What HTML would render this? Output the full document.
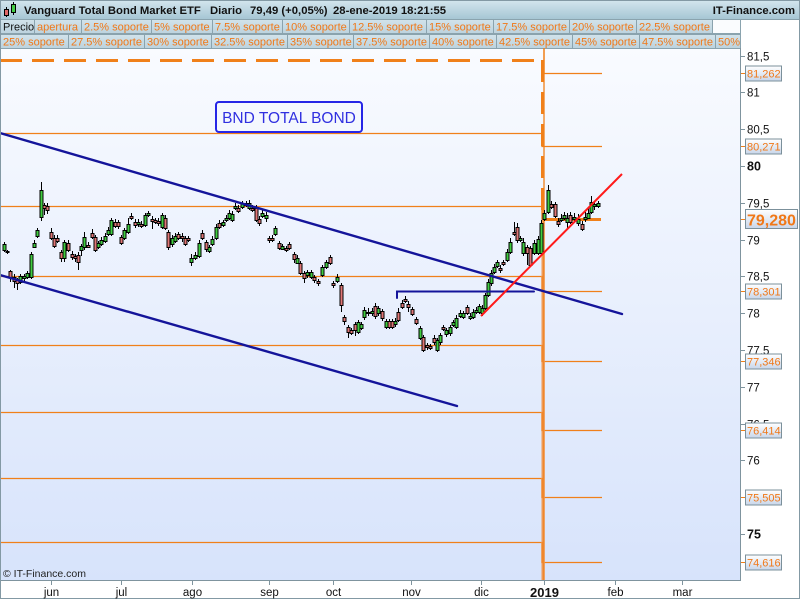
<!DOCTYPE html>
<html><head><meta charset="utf-8">
<style>
html,body{margin:0;padding:0;background:#fff;}
svg{display:block;font-family:"Liberation Sans",Arial,sans-serif;}
</style></head><body>
<svg id="s" width="800" height="600" viewBox="0 0 800 600" xmlns="http://www.w3.org/2000/svg">
<defs>
<linearGradient id="bg" x1="0" y1="0" x2="0" y2="1"><stop offset="0" stop-color="#f9fbff"/><stop offset="1" stop-color="#d7e3fb"/></linearGradient>
<linearGradient id="hd" x1="0" y1="0" x2="0" y2="1"><stop offset="0" stop-color="#d4e6ee"/><stop offset="1" stop-color="#a6c6d4"/></linearGradient>
<linearGradient id="cl" x1="0" y1="0" x2="0" y2="1"><stop offset="0" stop-color="#d2e3eb"/><stop offset="1" stop-color="#bcd3de"/></linearGradient>
<linearGradient id="bx" x1="0" y1="0" x2="0" y2="1"><stop offset="0" stop-color="#ffffff"/><stop offset="1" stop-color="#c8d6ea"/></linearGradient>
</defs>
<rect width="800" height="600" fill="#fff"/>
<rect x="0" y="48" width="741" height="532" fill="url(#bg)"/>

<rect x="0" y="0" width="800" height="19" fill="url(#hd)"/>
<line x1="0" y1="19.5" x2="800" y2="19.5" stroke="#87a0ab"/>
<g id="cells"></g>
<line x1="6.5" y1="7" x2="6.5" y2="17" stroke="#000"/>
<rect x="4.5" y="9.5" width="4" height="6" fill="#e06666" stroke="#000"/>
<line x1="13.5" y1="2" x2="13.5" y2="15" stroke="#000"/>
<rect x="11.5" y="4.5" width="4" height="8" fill="#44cc44" stroke="#000"/>
<text x="24" y="14" font-size="11.3" font-weight="bold" fill="#111">Vanguard Total Bond Market ETF</text>
<text x="210" y="14" font-size="11.3" font-weight="bold" fill="#111">Diario</text>
<text x="250" y="14" font-size="11.3" font-weight="bold" fill="#111">79,49 (+0,05%)</text>
<text x="333" y="14" font-size="11.3" font-weight="bold" fill="#111">28-ene-2019 18:21:55</text>
<text x="795" y="14" font-size="11.3" font-weight="bold" fill="#111" text-anchor="end">IT-Finance.com</text>

<g stroke="#f0801a" stroke-width="1.3" fill="none">
<polyline points="0,133.5 542,133.5 542,146.5 602,146.5"/>
<polyline points="0,206.5 542,206.5 542,219.5"/>
<polyline points="0,276.5 542,276.5 542,291.5 602,291.5"/>
<polyline points="0,345.5 542,345.5 542,361.5 602,361.5"/>
<polyline points="0,412.5 542,412.5 542,430.5 602,430.5"/>
<polyline points="0,478.5 542,478.5 542,497.5 602,497.5"/>
<polyline points="0,542.5 542,542.5 542,562.5 602,562.5"/>
<polyline points="544,48 544,73.5 602,73.5"/>
<line x1="544" y1="48" x2="544" y2="580"/>
</g>
<rect x="541" y="190" width="4" height="390" fill="#f0a060" opacity="0.55"/>
<line x1="543" y1="190" x2="543" y2="580" stroke="#f08020" stroke-width="1.2"/>
<g stroke="#f0801a" stroke-width="3" fill="none">
<line x1="0" y1="60.5" x2="541" y2="60.5" stroke-dasharray="22 10"/>
<line x1="542.5" y1="60" x2="542.5" y2="219" stroke-dasharray="22 10"/>
<line x1="545" y1="219.5" x2="601" y2="219.5"/>
</g>

<g id="candles"></g>

<g stroke="#14149a" stroke-width="2.4" fill="none" stroke-linecap="round">
<line x1="0" y1="133" x2="622" y2="314"/>
<line x1="0" y1="275" x2="457" y2="406"/>
<polyline points="397,298 397,291.5 534,291.5" stroke-width="2"/>
</g>
<line x1="481" y1="316" x2="622" y2="174" stroke="#ff1a1a" stroke-width="2"/>

<rect x="216" y="102" width="146" height="30" rx="3" fill="none" stroke="#2626e6" stroke-width="2"/>
<text x="289" y="123" font-size="15.5" fill="#3030e0" text-anchor="middle">BND TOTAL BOND</text>

<text x="3" y="577" font-size="10.5" fill="#222">© IT-Finance.com</text>

<line x1="740.5" y1="48" x2="740.5" y2="580" stroke="#7f949e"/>
<line x1="0" y1="580.5" x2="741" y2="580.5" stroke="#7f949e"/>
<rect x="0.5" y="0.5" width="799" height="598" fill="none" stroke="#8399a4"/>
<g id="yax"></g>
<g id="xax"></g>
</svg>
<script>
var NS="http://www.w3.org/2000/svg";
function el(p,t,a,txt){var e=document.createElementNS(NS,t);for(var k in a)e.setAttribute(k,a[k]);if(txt!=null)e.textContent=txt;p.appendChild(e);return e;}
var cells=document.getElementById('cells');
var r2=[[0,34,"Precio"],[34,81,"apertura"],[81,151,"2.5% soporte"],[151,212,"5% soporte"],[212,282,"7.5% soporte"],[282,349,"10% soporte"],[349,426,"12.5% soporte"],[426,493,"15% soporte"],[493,569,"17.5% soporte"],[569,636,"20% soporte"],[636,712,"22.5% soporte"]];
var r3=[[0,68,"25% soporte"],[68,144,"27.5% soporte"],[144,211,"30% soporte"],[211,287,"32.5% soporte"],[287,353,"35% soporte"],[353,429,"37.5% soporte"],[429,496,"40% soporte"],[496,572,"42.5% soporte"],[572,639,"45% soporte"],[639,715,"47.5% soporte"],[715,740,"50%"]];
function row(arr,y,h){arr.forEach(function(c,i){
 el(cells,'rect',{x:c[0]+0.5,y:y+0.5,width:c[1]-c[0],height:h,fill:'url(#cl)',stroke:'#8aa3ae'});
 el(cells,'text',{x:c[0]+3,y:y+11.5,'font-size':11,fill:(c[2]=="Precio"?'#111':'#f07818')},c[2]);
});}
row(r2,19,14);row(r3,34,14);
el(cells,'rect',{x:712.5,y:19.5,width:28,height:14,fill:'#fafcfe',stroke:'#8aa3ae'});
el(cells,'line',{x1:0,y1:48.5,x2:741,y2:48.5,stroke:'#8aa3ae'});

var D=[[4,244,250,242,252,'g'],[7,251,252,250,254,'r'],[10,271,277,270,282,'r'],[14,277,281,274,288,'r'],[17,280,283,278,290,'r'],[20,276,282,274,284,'g'],[24,276,278,274,282,'g'],[27,273,277,271,279,'g'],[31,254,277,252,279,'g'],[34,243,247,240,248,'g'],[37,230,236,228,238,'g'],[41,190,217,182,221,'g'],[44,205,208,203,215,'r'],[47,206,210,203,214,'r'],[51,232,238,228,240,'r'],[54,238,246,235,248,'r'],[57,238,241,235,243,'r'],[61,252,258,250,262,'r'],[64,242,258,240,262,'g'],[68,243,250,240,252,'r'],[72,254,257,251,260,'r'],[75,256,258,254,262,'r'],[78,255,262,252,270,'r'],[81,246,250,244,256,'g'],[84,237,247,232,250,'g'],[88,245,247,242,248,'r'],[92,233,237,229,239,'r'],[95,237,250,235,252,'r'],[98,243,247,241,249,'g'],[101,240,244,237,246,'g'],[105,236,241,233,243,'g'],[108,230,234,227,236,'g'],[111,220,234,218,236,'g'],[115,222,226,219,228,'r'],[118,222,226,220,229,'r'],[121,237,243,235,245,'r'],[124,230,238,228,240,'g'],[128,224,232,218,234,'g'],[131,216,218,213,220,'r'],[135,222,225,219,228,'r'],[138,222,224,219,227,'g'],[141,224,226,221,228,'r'],[145,215,225,213,227,'g'],[148,213,215,211,217,'g'],[152,219,221,216,229,'r'],[155,220,222,218,224,'r'],[158,221,223,218,226,'r'],[162,215,227,213,229,'g'],[165,218,228,215,230,'r'],[168,232,247,230,250,'r'],[172,238,244,235,247,'g'],[175,236,241,233,243,'g'],[178,234,238,232,240,'r'],[182,236,238,233,242,'r'],[185,238,244,236,246,'r'],[188,238,240,236,242,'r'],[191,258,262,254,266,'g'],[195,255,258,252,260,'g'],[199,243,256,240,258,'g'],[202,233,238,230,240,'r'],[206,242,249,240,252,'r'],[209,247,251,245,253,'g'],[212,239,244,236,246,'g'],[216,227,238,224,240,'g'],[219,223,227,220,229,'r'],[223,222,225,220,227,'g'],[226,218,220,215,222,'g'],[229,213,218,210,220,'g'],[232,214,220,211,222,'g'],[235,206,208,203,210,'g'],[238,208,211,205,213,'r'],[242,203,207,201,209,'g'],[246,203,205,201,207,'r'],[249,203,208,200,210,'g'],[252,208,210,205,212,'r'],[256,208,220,205,222,'r'],[259,219,223,216,226,'r'],[262,213,216,210,218,'g'],[266,215,218,212,222,'g'],[269,238,240,236,243,'r'],[272,238,240,235,242,'r'],[275,228,234,226,236,'g'],[279,243,248,241,250,'r'],[282,246,249,244,250,'g'],[286,248,250,246,252,'r'],[289,244,248,242,250,'r'],[294,254,259,252,263,'r'],[297,258,263,255,264,'g'],[300,263,273,261,275,'r'],[304,273,278,271,283,'r'],[307,272,275,270,278,'g'],[311,272,277,270,279,'g'],[314,277,280,275,283,'r'],[318,281,283,279,286,'r'],[322,267,275,265,277,'g'],[326,262,267,260,269,'g'],[330,257,263,255,265,'r'],[333,283,285,281,288,'r'],[337,277,281,274,283,'g'],[341,285,305,283,312,'r'],[344,317,321,315,325,'r'],[348,327,332,325,338,'r'],[351,330,333,328,335,'r'],[355,324,330,322,336,'r'],[358,322,332,320,334,'g'],[361,324,328,322,330,'g'],[364,310,317,307,320,'g'],[368,312,313,308,316,'r'],[372,311,313,308,316,'g'],[375,306,316,303,319,'r'],[378,308,313,306,316,'g'],[382,311,318,309,321,'r'],[386,321,327,319,329,'g'],[389,321,327,319,329,'r'],[392,321,327,319,329,'r'],[395,321,324,318,327,'g'],[398,312,320,308,322,'r'],[402,303,307,300,309,'r'],[405,299,301,296,303,'r'],[408,304,307,301,312,'r'],[412,309,314,307,316,'r'],[416,319,323,317,325,'r'],[420,328,338,326,340,'g'],[423,337,350,335,352,'r'],[427,345,347,343,350,'r'],[430,346,348,344,350,'r'],[434,338,342,335,345,'r'],[437,340,350,338,352,'g'],[440,335,342,333,345,'g'],[443,327,329,325,331,'r'],[446,330,334,328,337,'g'],[450,327,333,325,336,'g'],[453,322,325,320,327,'g'],[456,318,327,315,329,'g'],[460,313,316,310,318,'g'],[463,313,317,311,319,'g'],[467,307,313,305,315,'r'],[470,316,318,313,320,'g'],[473,312,317,309,319,'g'],[476,310,312,307,314,'g'],[479,306,312,304,314,'g'],[482,308,313,305,316,'g'],[485,295,308,293,310,'g'],[488,282,295,279,297,'g'],[491,273,283,270,286,'g'],[494,267,272,264,274,'g'],[497,262,266,260,268,'g'],[500,268,270,265,273,'r'],[503,262,264,260,266,'r'],[507,252,260,249,262,'g'],[510,242,252,238,254,'g'],[514,232,234,222,236,'r'],[517,227,240,223,243,'r'],[520,238,240,236,242,'g'],[523,242,253,238,256,'g'],[527,247,253,245,265,'r'],[530,248,265,246,267,'r'],[534,243,253,240,255,'g'],[538,239,253,236,255,'g'],[541,223,253,220,255,'g'],[544,213,219,210,221,'g'],[548,190,212,185,214,'g'],[551,204,207,201,209,'r'],[555,204,216,202,218,'r'],[558,221,224,218,227,'r'],[561,218,220,214,222,'g'],[564,215,218,212,220,'g'],[567,218,222,213,229,'g'],[570,215,222,212,224,'r'],[574,217,219,213,222,'g'],[578,219,223,214,226,'g'],[582,224,229,221,231,'r'],[585,217,219,212,222,'g'],[588,213,218,208,219,'g'],[591,202,212,196,214,'g'],[594,204,206,201,210,'g'],[598,203,206,201,208,'g']];
var cg=document.getElementById('candles');
D.forEach(function(d){
 var x=d[0];
 el(cg,'line',{x1:x+0.5,y1:d[3],x2:x+0.5,y2:d[4],stroke:'#000','stroke-width':1});
 var h=Math.max(d[2]-d[1],1);
 el(cg,'rect',{x:x-1,y:d[1]+0.5,width:3,height:h,fill:(d[5]=='g'?'#3fcc3f':'#e07676'),stroke:'#000','stroke-width':1});
});
var ya=document.getElementById('yax');
function yv(v){return 166-(v-80)*73.6;}
var lab=[[81.5,"81,5"],[81,"81"],[80.5,"80,5"],[80,"80",1],[79.5,"79,5"],[79,"79"],[78.5,"78,5"],[78,"78"],[77.5,"77,5"],[77,"77"],[76.5,"76,5"],[76,"76"],[75.5,"75,5"],[75,"75",1]];
lab.forEach(function(l){var y=Math.round(yv(l[0]))+0.5;
 el(ya,'line',{x1:741,y1:y,x2:745,y2:y,stroke:'#7f949e'});
 var a={x:747,y:y+4,'font-size':11.5,fill:'#111'};if(l[2]){a['font-weight']='bold';a['font-size']=12.5;}
 el(ya,'text',a,l[1]);});
var ol=[[73,"81,262"],[146,"80,271"],[291,"78,301"],[361,"77,346"],[430,"76,414"],[497,"75,505"],[562,"74,616"]];
ol.forEach(function(o){var y=o[0];
 el(ya,'line',{x1:741,y1:y+0.5,x2:746,y2:y+0.5,stroke:'#f0801a'});
 el(ya,'rect',{x:745.5,y:y-7,width:36,height:15,fill:'url(#bx)',stroke:'#7b909b'});
 el(ya,'text',{x:747,y:y+4.5,'font-size':11,fill:'#f07818'},o[1]);});
el(ya,'line',{x1:741,y1:219.5,x2:746,y2:219.5,stroke:'#f0801a'});
el(ya,'rect',{x:745.5,y:209.5,width:52,height:19,fill:'url(#bx)',stroke:'#7b909b'});
el(ya,'text',{x:747,y:225.5,'font-size':16,'font-weight':'bold',fill:'#f07818'},"79,280");
var xa=document.getElementById('xax');
var xl=[[51,"jun"],[121,"jul"],[192,"ago"],[269,"sep"],[333,"oct"],[411,"nov"],[481,"dic"],[544,"2019",1],[615,"feb"],[682,"mar"]];
xl.forEach(function(l){var x=l[0]+0.5;
 el(xa,'line',{x1:x,y1:581,x2:x,y2:585,stroke:'#7f949e'});
 var a={x:x,y:596,'font-size':11.5,fill:'#111','text-anchor':'middle'};if(l[2]){a['font-weight']='bold';a['font-size']=13;a.y=597;}
 el(xa,'text',a,l[1]);});
</script>
</body></html>
